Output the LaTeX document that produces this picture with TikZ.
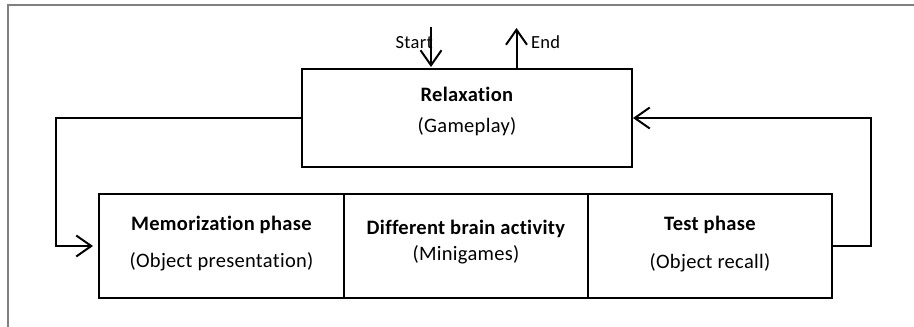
\documentclass[tikz,border=0pt]{standalone}
\usepackage{fontspec}
\setmainfont[Ligatures=NoCommon,LetterSpace=1.5]{Carlito}
\usetikzlibrary{arrows.meta}
\tikzset{
  blk/.style={draw=black, line width=2pt, rectangle, inner sep=0pt},
  txt/.style={inner sep=0pt, anchor=base, font=\fontsize{20.5}{24}\selectfont},
  conn/.style={draw=black, line width=2pt, line join=miter},
  barb/.style={-{Straight Barb[length=15pt,width=21pt,line width=2pt]}},
  lbl/.style={inner sep=0pt, font=\fontsize{18.5}{22}\selectfont}
}
\begin{document}
\begin{tikzpicture}[x=1pt,y=-1pt]
\useasboundingbox (0,0) rectangle (914,327);
\draw[gray, line width=1.2pt] (8,330) -- (8,5) -- (916,5);
\node[blk, minimum width=330pt, minimum height=98pt] (relax) at (467,118) {};
\node[blk, minimum width=245pt, minimum height=104pt] (mem) at (221.5,246) {};
\node[blk, minimum width=244pt, minimum height=104pt] (diff) at (466,246) {};
\node[blk, minimum width=244pt, minimum height=104pt] (test) at (710,246) {};
\node[txt] (relaxA) at (467,101.7) {\textbf{Relaxation}};
\node[txt] (relaxB) at (467,132.7) {(Gameplay)};
\node[txt] (memA) at (221.5,230) {\textbf{Memorization phase}};
\node[txt] (memB) at (221.5,267.5) {(Object presentation)};
\node[txt] (diffA) at (466,234) {\textbf{Different brain activity}};
\node[txt] (diffB) at (466,260) {(Minigames)};
\node[txt] (testA) at (710,230) {\textbf{Test phase}};
\node[txt] (testB) at (710,268) {(Object recall)};
\coordinate (lc) at (56,0);
\coordinate (rc) at (871,0);
\coordinate (st) at (431,27);
\coordinate (en) at (516.5,28);
\draw[conn, barb, shorten >=5pt] (relax.west) -- (relax.west -| lc) -- (mem.west -| lc) -- (mem.west);
\draw[conn, barb] (test.east) -- (test.east -| rc) -- (relax.east -| rc) -- (relax.east);
\draw[conn, barb, shorten >=1pt] (st) -- (relax.north -| st);
\draw[conn, barb] (relax.north -| en) -- (en);
\node[lbl, anchor=base east] (startlbl) at (433,48) {Start};
\node[lbl, anchor=base west] (endlbl) at (531,48) {End};
\end{tikzpicture}
\end{document}
